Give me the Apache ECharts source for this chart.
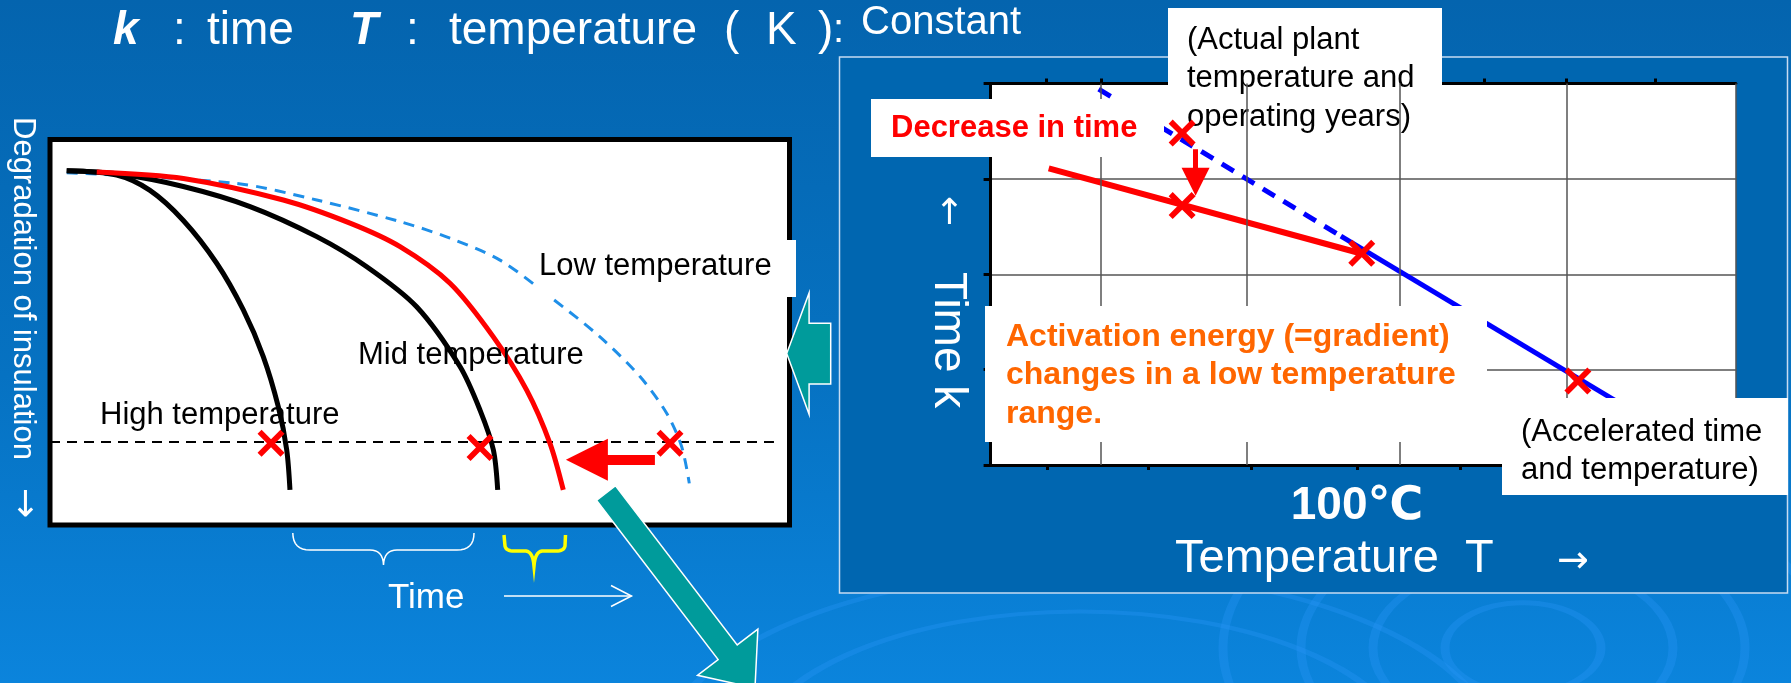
<!DOCTYPE html>
<html>
<head>
<meta charset="utf-8">
<title>Insulation degradation / Arrhenius plot</title>
<script src="https://cdn.jsdelivr.net/npm/echarts@6/dist/echarts.min.js"></script>
<style>
html, body { margin: 0; padding: 0; }
#slide { width: 1791px; height: 683px; }
</style>
</head>
<body>
<div id="slide"></div>
<script>
// ---- left panel: degradation curves (x = time, y = insulation level, 0-100) ----
var highTemp = [[2.26, 91.9], [9.02, 90.8], [13.52, 86.8], [18.03, 79.0], [22.54, 67.9], [26.14, 55.8], [28.84, 43.7], [30.87, 30.7], [32.01, 19.5], [32.45, 9.1]];
var midTemp = [[2.26, 91.9], [9.02, 91.1], [18.03, 87.8], [27.05, 82.6], [36.07, 74.8], [42.83, 67.0], [49.58, 56.6], [55.44, 41.1], [58.15, 29.8], [59.95, 19.5], [60.54, 9.1]];
var lowTempActual = [[6.32, 91.6], [18.03, 89.9], [31.55, 84.3], [40.57, 78.3], [47.33, 72.2], [54.09, 62.7], [59.95, 48.8], [64.46, 35.0], [67.61, 21.2], [69.41, 9.1]];
var lowTempPredicted = [[2.26, 91.4], [25.25, 88.6], [36.07, 84.3], [47.33, 78.7], [54.09, 74.4], [60.85, 68.7], [67.61, 59.2], [74.37, 48.8], [79.78, 38.5], [83.39, 29.0], [85.42, 20.3], [86.45, 10.8]];
var lifeLimit = [[0, 21.5], [97.9, 21.5]];
var lifePoints = [[29.89, 21.2], [58.15, 20.1], [83.84, 21.2]];
var lifeShift = [[81.8, 16.9], [72.6, 16.9]];

// ---- right panel: Arrhenius plot (x = temperature scale, y = log time) ----
var tempGrid = [14.8, 34.4, 54.9, 77.3, 100];
var bottomTicks = [7.6, 21.2, 35.0, 49.2, 63.0];
var topTicks = [7.4, 14.8, 66.2, 77.3, 89.2];
var extrapolated = [[14.5, 3.94], [47.0, 2.40]];
var accelerated = [[47.0, 2.40], [85.0, 0.62]];
var actualLine = [[7.8, 3.11], [49.6, 2.22]];
var testPoints = [[25.7, 3.48], [25.7, 2.72], [49.8, 2.22], [78.8, 0.88]];
var timeDrop = [[27.5, 3.31], [27.5, 2.97]];

var FONT = '"Liberation Sans", Arial, "DejaVu Sans", sans-serif';
var ARROW_FONT = '"DejaVu Sans", sans-serif';
var CROSS = 'path://M0,3 L3,0 L10,7 L17,0 L20,3 L13,10 L20,17 L17,20 L10,13 L3,20 L0,17 L7,10 Z';

function txt(s, x, y, size, o) {
    o = o || {};
    var font = (o.italic ? 'italic ' : '') + (o.bold ? 'bold ' : '') + size + 'px ' + (o.family || FONT);
    return {
        type: 'text', x: x, y: y, z: o.z == null ? 11 : o.z, rotation: o.rotation || 0, silent: true,
        style: {
            text: s, fill: o.fill || '#000', font: font,
            align: o.align || 'left', textAlign: o.align || 'left',
            verticalAlign: o.valign || 'middle', textVerticalAlign: o.valign || 'middle',
            lineHeight: o.lineHeight
        }
    };
}
function box(x, y, w, h, z) {
    return { type: 'rect', z: z, silent: true, shape: { x: x, y: y, width: w, height: h }, style: { fill: '#fff' } };
}
// brace outline: start point, then straight pieces {p} or quadratic pieces {c, p}
function curvePoints(start, parts) {
    var pts = [start], last = start;
    parts.forEach(function (p) {
        if (p.c) {
            for (var i = 1; i <= 8; i++) {
                var t = i / 8, u = 1 - t;
                pts.push([u * u * last[0] + 2 * u * t * p.c[0] + t * t * p.p[0],
                          u * u * last[1] + 2 * u * t * p.c[1] + t * t * p.p[1]]);
            }
        } else {
            pts.push(p.p);
        }
        last = p.p;
    });
    return pts;
}
function blockArrow(sx, sy, tx, ty, shaftHalf, headHalf, headLen) {
    var len = Math.sqrt((tx - sx) * (tx - sx) + (ty - sy) * (ty - sy));
    var dx = (tx - sx) / len, dy = (ty - sy) / len;
    var nx = -dy, ny = dx;
    var bx = tx - dx * headLen, by = ty - dy * headLen;
    return {
        type: 'polygon', z: 20, silent: true,
        shape: { points: [
            [sx + nx * shaftHalf, sy + ny * shaftHalf], [bx + nx * shaftHalf, by + ny * shaftHalf],
            [bx + nx * headHalf, by + ny * headHalf], [tx, ty],
            [bx - nx * headHalf, by - ny * headHalf], [bx - nx * shaftHalf, by - ny * shaftHalf],
            [sx - nx * shaftHalf, sy - ny * shaftHalf]
        ] },
        style: { fill: '#009b9b', stroke: '#fff', lineWidth: 1.5 }
    };
}
function ripple(cx, cy, r, k) {
    return { type: 'circle', x: cx, y: cy, scaleY: k, z: -10, silent: true,
        shape: { cx: 0, cy: 0, r: r },
        style: { fill: 'none', stroke: 'rgba(40,150,245,0.35)', lineWidth: 9 } };
}

function drawSlide() {
    var chart = echarts.init(document.getElementById('slide'));

    var whiteBrace = curvePoints([292.8, 533], [
        { c: [293, 550], p: [310, 550] }, { p: [370, 550] }, { c: [383, 550], p: [383.5, 565] },
        { c: [384, 550], p: [397, 550] }, { p: [457, 550] }, { c: [474, 550], p: [474, 533] }
    ]);
    var yellowBrace = curvePoints([504, 535], [
        { p: [505, 546] }, { c: [506, 551], p: [514, 551] }, { p: [526, 551] }, { c: [533, 552], p: [534, 566] },
        { c: [535, 552], p: [542, 551] }, { p: [556, 551] }, { c: [564, 551], p: [565, 546] }, { p: [565.5, 535] }
    ]);

    var graphics = [
        ripple(1523, 648, 78, 0.58), ripple(1523, 648, 150, 0.58), ripple(1523, 648, 222, 0.58), ripple(1523, 648, 300, 0.58),
        ripple(1080, 760, 330, 0.45), ripple(1080, 760, 420, 0.45),
        { type: 'rect', z: -5, silent: true, shape: { x: 839.5, y: 57, width: 948, height: 536 },
          style: { fill: '#0066b0', stroke: '#c6dcf2', lineWidth: 1.5 } },

        // title line
        txt('k', 113, 31, 46, { bold: true, italic: true, fill: '#fff' }),
        txt(':', 173, 31, 46, { fill: '#fff' }),
        txt('time', 207, 31, 46, { fill: '#fff' }),
        txt('T', 350, 31, 46, { bold: true, italic: true, fill: '#fff' }),
        txt(':', 406, 31, 46, { fill: '#fff' }),
        txt('temperature', 449, 31, 46, { fill: '#fff' }),
        txt('(', 724, 31, 46, { fill: '#fff' }),
        txt('K', 766, 31, 46, { fill: '#fff' }),
        txt(')', 818, 31, 46, { fill: '#fff' }),
        txt(':', 833, 31, 40, { fill: '#fff' }),
        txt('Constant', 861, 23, 40, { fill: '#fff' }),

        // left panel labels
        txt('Degradation of insulation', 23, 117, 31, { fill: '#fff', rotation: -Math.PI / 2 }),
        txt('\u2192', 23, 503, 36, { fill: '#fff', align: 'center', rotation: -Math.PI / 2, family: ARROW_FONT }),
        box(535, 240, 261, 57, 10),
        txt('Low temperature', 539, 266, 31),
        txt('Mid temperature', 358, 355, 31),
        txt('High temperature', 100, 415, 31),
        { type: 'polyline', z: 11, silent: true, shape: { points: whiteBrace }, style: { fill: 'none', stroke: '#fff', lineWidth: 1.5 } },
        { type: 'polyline', z: 11, silent: true, shape: { points: yellowBrace }, style: { fill: 'none', stroke: '#ffff00', lineWidth: 3.5 } },
        txt('Time', 388, 598, 35, { fill: '#fff' }),
        { type: 'polyline', z: 11, silent: true, shape: { points: [[504, 596], [631.5, 596]] }, style: { fill: 'none', stroke: '#fff', lineWidth: 1.5 } },
        { type: 'polyline', z: 11, silent: true, shape: { points: [[611, 585.5], [631.5, 596], [611, 606.5]] }, style: { fill: 'none', stroke: '#fff', lineWidth: 1.5 } },

        blockArrow(830.7, 353.6, 786.7, 353.6, 30.3, 60.7, 22.4),
        blockArrow(606, 493, 755, 688, 12, 38, 45),

        // right panel labels
        box(1168, 8, 274, 134, 1),
        txt('(Actual plant\ntemperature and\noperating years)', 1187, 21, 31, { z: 1.5, valign: 'top', lineHeight: 38.5 }),
        box(871, 99, 293, 58, 10),
        txt('Decrease in time', 891, 128, 31, { bold: true, fill: '#ff0000' }),
        box(985, 306, 502, 136, 10),
        txt('Activation energy (=gradient)\nchanges in a low temperature\nrange.', 1006, 318, 32, { bold: true, fill: '#ff6600', valign: 'top', lineHeight: 38.3 }),
        box(1502, 398, 286, 97, 10),
        txt('(Accelerated time\nand temperature)', 1521, 413, 31, { valign: 'top', lineHeight: 38.5 }),
        txt('\u2190', 947, 211, 36, { fill: '#fff', align: 'center', rotation: -Math.PI / 2, family: ARROW_FONT }),
        txt('Time k', 948, 272, 46, { fill: '#fff', rotation: -Math.PI / 2 }),
        txt('100\u2103', 1357, 506, 46, { bold: true, fill: '#fff', align: 'center' }),
        txt('Temperature  T', 1175, 559, 47, { fill: '#fff' }),
        txt('\u2192', 1573, 562, 38, { fill: '#fff', align: 'center', family: ARROW_FONT })
    ];

    var option = {
        backgroundColor: new echarts.graphic.LinearGradient(0, 0, 0, 1, [
            { offset: 0, color: '#0464ae' },
            { offset: 0.55, color: '#0672c2' },
            { offset: 1, color: '#0b84dc' }
        ]),
        animation: false,
        graphic: { elements: graphics },
        grid: [
            { left: 50, top: 139.5, width: 739.5, height: 385.5, show: true, backgroundColor: '#fff', borderColor: '#000', borderWidth: 5 },
            { left: 990.6, top: 83.5, width: 745.3, height: 381.5, show: true, backgroundColor: '#fff', borderWidth: 0 }
        ],
        xAxis: [
            { gridIndex: 0, type: 'value', min: 0, max: 100, show: false },
            { gridIndex: 1, type: 'value', min: 0, max: 100, position: 'bottom',
              axisLine: { lineStyle: { color: '#000', width: 3 } },
              axisTick: { show: true, customValues: bottomTicks, length: 5, lineStyle: { color: '#000', width: 3 } },
              axisLabel: { show: false }, splitLine: { show: false } },
            { gridIndex: 1, type: 'value', min: 0, max: 100, position: 'top',
              axisLine: { lineStyle: { color: '#000', width: 3 } },
              axisTick: { show: true, customValues: topTicks, length: 5, lineStyle: { color: '#000', width: 3 } },
              axisLabel: { show: false }, splitLine: { show: false } }
        ],
        yAxis: [
            { gridIndex: 0, type: 'value', min: 0, max: 100, show: false },
            { gridIndex: 1, type: 'value', min: 0, max: 4, interval: 1,
              axisLine: { show: true, lineStyle: { color: '#000', width: 3 } },
              axisTick: { show: true, length: 7, lineStyle: { color: '#000', width: 3 } },
              axisLabel: { show: false },
              splitLine: { show: true, lineStyle: { color: '#555', width: 1.5 } } }
        ],
        series: [
            { type: 'line', xAxisIndex: 0, yAxisIndex: 0, data: lifeLimit, symbol: 'none',
              lineStyle: { color: '#000', width: 2, type: [10, 7] } },
            { type: 'line', xAxisIndex: 0, yAxisIndex: 0, data: lowTempPredicted, symbol: 'none', smooth: 0.3,
              lineStyle: { color: '#1f8fe8', width: 3, type: [11, 8] } },
            { type: 'line', xAxisIndex: 0, yAxisIndex: 0, data: highTemp, symbol: 'none', smooth: 0.3,
              lineStyle: { color: '#000', width: 5 } },
            { type: 'line', xAxisIndex: 0, yAxisIndex: 0, data: midTemp, symbol: 'none', smooth: 0.3,
              lineStyle: { color: '#000', width: 5 } },
            { type: 'line', xAxisIndex: 0, yAxisIndex: 0, data: lowTempActual, symbol: 'none', smooth: 0.3,
              lineStyle: { color: '#ff0000', width: 5 } },
            { type: 'scatter', xAxisIndex: 0, yAxisIndex: 0, data: lifePoints, symbol: CROSS, symbolSize: 27,
              itemStyle: { color: '#ff0000', opacity: 1 }, z: 5 },
            { type: 'lines', coordinateSystem: 'cartesian2d', xAxisIndex: 0, yAxisIndex: 0,
              symbol: ['none', 'triangle'], symbolSize: 42,
              data: [{ coords: lifeShift }],
              lineStyle: { color: '#ff0000', width: 10, opacity: 1, curveness: 0 }, z: 5 },

            // right panel
            { type: 'line', xAxisIndex: 1, yAxisIndex: 1, data: [], z: 0,
              markLine: { silent: true, symbol: 'none', label: { show: false }, animation: false,
                lineStyle: { color: '#555', width: 1.5, type: 'solid' },
                data: tempGrid.map(function (v) { return { xAxis: v }; }) } },
            { type: 'line', xAxisIndex: 1, yAxisIndex: 1, data: extrapolated, symbol: 'none',
              lineStyle: { color: '#0000ff', width: 5, type: [14, 10] } },
            { type: 'line', xAxisIndex: 1, yAxisIndex: 1, data: accelerated, symbol: 'none',
              lineStyle: { color: '#0000ff', width: 5 } },
            { type: 'line', xAxisIndex: 1, yAxisIndex: 1, data: actualLine, symbol: 'none',
              lineStyle: { color: '#ff0000', width: 6 } },
            { type: 'lines', coordinateSystem: 'cartesian2d', xAxisIndex: 1, yAxisIndex: 1,
              symbol: ['none', 'triangle'], symbolSize: 28,
              data: [{ coords: timeDrop }],
              lineStyle: { color: '#ff0000', width: 5, opacity: 1 }, z: 5 },
            { type: 'scatter', xAxisIndex: 1, yAxisIndex: 1, data: testPoints, symbol: CROSS, symbolSize: 27,
              itemStyle: { color: '#ff0000', opacity: 1 }, z: 5 }
        ]
    };

    chart.setOption(option);
}

drawSlide();
</script>
</body>
</html>
